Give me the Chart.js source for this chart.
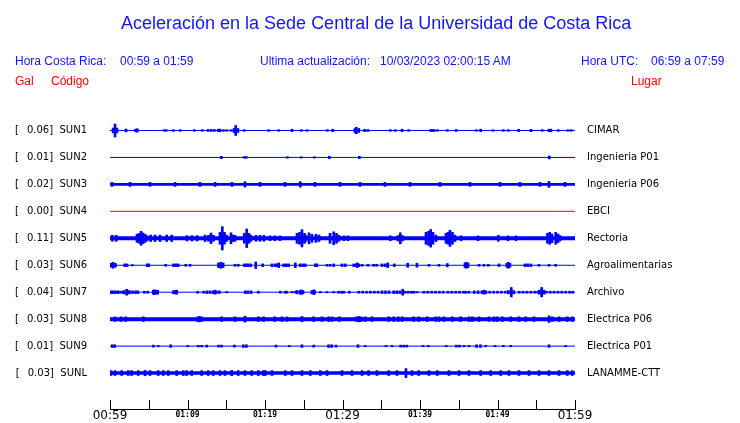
<!DOCTYPE html>
<html>
<head>
<meta charset="utf-8">
<script src="https://cdn.jsdelivr.net/npm/chart.js@4/dist/chart.umd.min.js"></script>
<style>
  body { margin: 0; background: #fff; }
  #wrap { position: relative; width: 740px; height: 423px; overflow: hidden; }
  #wrap canvas { position: absolute; left: 0; top: 0; }
  .txt { position: absolute; white-space: nowrap; font-family: "Liberation Sans", Arial, sans-serif; font-size: 12px; line-height: 12px; color: #1414ff; }
  .red { color: #ff0000; }
  #title { font-size: 18px; line-height: 18px; left: 121px; top: 14px; }
</style>
</head>
<body>
<div id="wrap">
  <canvas id="sismo" width="740" height="423"></canvas>
  <div class="txt" id="title">Aceleración en la Sede Central de la Universidad de Costa Rica</div>
  <div class="txt" style="left:15px;top:55px">Hora Costa Rica:</div>
  <div class="txt" style="left:120px;top:55px">00:59 a 01:59</div>
  <div class="txt" style="left:260px;top:55px">Ultima actualización:</div>
  <div class="txt" style="left:380px;top:55px">10/03/2023 02:00:15 AM</div>
  <div class="txt" style="left:581px;top:55px">Hora UTC:</div>
  <div class="txt" style="left:651px;top:55px">06:59 a 07:59</div>
  <div class="txt red" style="left:15px;top:75px">Gal</div>
  <div class="txt red" style="left:51px;top:75px">Código</div>
  <div class="txt red" style="left:631px;top:75px">Lugar</div>
</div>
<script>
/* ── Data ───────────────────────────────────────────────────── */

const stations = ["SUN1", "SUN2", "SUN3", "SUN4", "SUN5", "SUN6", "SUN7", "SUN8", "SUN9", "SUNL"];
const places   = ["CIMAR", "Ingenieria P01", "Ingenieria P06", "EBCI", "Rectoria",
                  "Agroalimentarias", "Archivo", "Electrica P06", "Electrica P01", "LANAMME-CTT"];
const peakGal  = [0.06, 0.01, 0.02, 0.00, 0.11, 0.03, 0.04, 0.03, 0.01, 0.03];

// minutes after 00:59, tick every 5 min
const tickLabels = ["00:59", "", "01:09", "", "01:19", "", "01:29", "", "01:39", "", "01:49", "", "01:59"];

// continuous background noise (half width, trace spacing = 10)
const noiseLevel = [0, 0, 0.55, 0, 0.74, 0, 0, 0.74, 0, 0.63];

// bursts per station: [minute, half amplitude]
const bursts = [
  // SUN1
  [[0.4,0.9],[0.65,2.4],[0.9,0.9],[2.06,0.55],[3.3,0.5],[3.52,0.63],[7.0,0.3],[7.26,0.3],[8.17,0.3],[9.07,0.3],
   [10.88,0.3],[11.91,0.3],[12.65,0.37],[13.07,0.37],[13.46,0.37],[13.97,0.48],[14.2,0.48],[14.62,0.3],[15.06,0.3],
   [15.61,0.3],[16.0,0.74],[16.22,1.85],[16.5,0.74],[17.33,0.3],[20.48,0.3],[21.77,0.3],[23.48,0.44],[24.68,0.3],
   [25.42,0.3],[28.04,0.3],[28.74,0.48],[31.6,0.74],[31.78,1.2],[32.1,0.74],[32.86,0.44],[33.29,0.37],[36.17,0.3],
   [36.81,0.3],[37.68,0.48],[38.54,0.3],[41.38,0.37],[41.59,0.37],[41.81,0.37],[42.23,0.3],[43.52,0.3],[44.68,0.37],
   [47.26,0.3],[47.83,0.48],[49.42,0.3],[50.75,0.3],[51.39,0.3],[52.74,0.44],[54.32,0.44],[55.78,0.3],[56.65,0.48],
   [56.9,0.48],[57.85,0.3],[59.1,0.3],[59.52,0.3]],
  // SUN2
  [[14.36,0.44],[17.33,0.3],[17.59,0.3],[22.88,0.26],[24.68,0.26],[26.36,0.26],[28.3,0.44],[32.17,0.44],[56.68,0.55]],
  // SUN3
  [[0.26,0.74],[2.58,0.74],[5.16,0.74],[8.39,0.74],[11.61,0.74],[13.55,0.74],[15.74,0.74],[17.42,1.0],[19.35,0.74],
   [22.58,0.74],[24.55,1.0],[26.45,0.74],[29.68,0.74],[32.26,0.74],[35.48,0.74],[38.71,0.74],[42.58,0.74],[46.45,0.74],
   [50.32,0.74],[52.9,0.74],[55.48,0.74],[56.65,1.1],[58.71,0.74]],
  // SUN4
  [],
  // SUN5
  [[0.3,1.1],[0.8,1.1],[3.48,1.5],[3.74,1.8],[4.0,2.6],[4.26,2.0],[4.52,1.5],[4.77,1.0],[5.25,1.2],[5.81,1.2],
   [6.45,1.2],[7.32,1.2],[7.96,1.2],[9.94,1.0],[10.58,1.0],[11.23,1.0],[12.26,1.2],[12.71,1.1],[13.03,1.96],[13.35,1.1],
   [14.19,2.2],[14.49,4.33],[14.77,2.2],[15.03,1.2],[15.61,2.04],[15.87,1.2],[16.13,1.1],[17.33,1.85],[17.64,3.44],
   [17.94,1.85],[18.19,1.1],[18.84,1.1],[19.35,1.1],[19.87,1.1],[20.65,0.9],[21.29,0.9],[21.94,0.9],[24.13,1.85],
   [24.45,2.2],[24.77,3.2],[25.1,1.85],[25.29,1.1],[25.68,2.04],[26.06,1.5],[26.58,1.5],[26.97,1.2],[28.39,1.85],
   [28.86,2.4],[29.23,1.85],[29.55,1.1],[30.19,0.9],[30.71,0.9],[36.17,0.93],[37.16,1.0],[37.46,2.04],[37.74,1.0],
   [40.77,2.2],[41.1,2.6],[41.38,3.26],[41.68,2.2],[42.06,1.2],[43.35,1.85],[43.61,2.2],[43.87,3.0],[44.19,2.2],
   [44.52,1.2],[45.29,0.93],[47.48,0.9],[50.1,1.1],[51.35,0.9],[52.39,0.9],[56.45,1.85],[56.74,2.2],[57.03,1.6],
   [57.51,2.2],[57.81,1.6],[58.06,1.0]],
  // SUN6
  [[0.1,0.74],[0.39,1.1],[0.7,0.74],[1.9,0.5],[2.2,0.5],[2.88,0.25],[4.8,0.5],[5.0,0.5],[7.19,0.37],[8.2,0.5],
   [8.5,0.5],[8.8,0.5],[9.77,0.37],[10.32,0.37],[14.0,0.86],[14.3,1.1],[14.6,0.86],[16.13,0.37],[16.55,0.37],
   [17.35,0.5],[17.6,0.5],[17.85,0.5],[18.15,0.5],[18.8,1.23],[19.7,0.5],[20.9,0.5],[21.3,0.5],[21.55,0.5],
   [21.77,0.86],[22.4,0.5],[22.75,0.5],[23.05,0.5],[23.91,0.86],[24.55,0.5],[24.9,0.5],[25.2,0.5],[26.5,0.5],
   [26.7,0.5],[28.0,0.37],[28.4,0.37],[28.86,0.5],[29.94,0.5],[30.36,0.5],[31.45,0.5],[31.8,0.5],[31.9,0.86],
   [32.1,0.5],[32.52,0.37],[33.29,0.37],[34.0,0.37],[34.4,0.37],[35.1,0.5],[35.5,0.5],[35.83,0.86],[36.68,0.5],
   [38.41,0.74],[39.61,0.74],[41.16,0.37],[42.45,0.37],[43.52,0.62],[45.8,0.86],[45.97,1.1],[46.2,0.86],[47.61,0.37],
   [48.26,0.37],[48.81,0.37],[50.19,0.5],[51.2,0.74],[51.39,1.1],[51.6,0.74],[53.55,0.5],[53.9,0.5],[54.3,0.5],
   [55.35,0.37],[56.65,0.37],[57.51,0.37]],
  // SUN7
  [[0.1,0.5],[0.4,0.5],[0.7,0.5],[1.0,0.5],[1.2,0.37],[1.5,0.37],[1.8,0.62],[2.15,1.1],[2.5,0.62],[2.9,0.5],
   [3.3,0.5],[3.6,0.5],[4.43,0.37],[4.86,0.37],[5.6,0.74],[5.7,0.86],[5.9,0.74],[6.15,0.74],[8.2,0.62],[8.5,0.62],
   [8.6,0.74],[11.32,0.37],[12.09,0.37],[12.5,0.5],[12.9,0.5],[13.3,0.5],[13.55,0.74],[13.7,0.5],[14.1,0.5],
   [15.06,0.25],[17.45,0.5],[17.8,0.5],[18.2,0.5],[19.14,0.37],[21.97,0.37],[22.6,0.37],[22.8,0.37],[23.5,0.25],
   [23.9,0.25],[24.1,0.62],[24.5,0.62],[24.65,0.86],[24.9,0.62],[26.05,0.62],[26.3,0.86],[26.4,0.62],[27.14,0.25],
   [28.0,0.25],[28.86,0.25],[29.5,0.37],[29.9,0.37],[30.15,0.37],[30.88,0.37],[32.1,0.37],[32.6,0.37],[33.1,0.37],
   [33.6,0.37],[34.1,0.37],[34.6,0.37],[35.1,0.5],[35.55,0.5],[36.0,0.5],[36.6,0.5],[37.0,0.5],[37.4,0.5],
   [37.77,1.1],[38.1,0.37],[38.5,0.37],[38.9,0.37],[39.2,0.37],[39.61,0.25],[40.5,0.37],[41.0,0.37],[41.5,0.37],
   [42.0,0.37],[42.5,0.37],[43.0,0.37],[43.6,0.37],[44.1,0.37],[44.6,0.37],[45.1,0.37],[45.6,0.37],[45.9,0.37],
   [46.3,0.37],[47.0,0.5],[47.5,0.5],[48.0,0.5],[48.26,0.74],[48.5,0.5],[49.0,0.37],[49.5,0.37],[50.0,0.37],
   [50.5,0.37],[51.0,0.37],[51.4,0.62],[51.78,1.74],[52.1,0.62],[52.8,0.37],[53.3,0.37],[53.8,0.37],[54.3,0.37],
   [54.8,0.37],[55.2,0.37],[55.4,0.74],[55.7,1.74],[56.0,0.74],[56.3,0.37],[56.8,0.37],[57.3,0.37],[57.8,0.37],
   [58.3,0.37],[58.8,0.37],[59.3,0.37],[59.7,0.37]],
  // SUN8
  [[0.65,0.86],[1.42,0.86],[2.03,0.86],[4.3,0.86],[11.3,0.86],[11.52,1.0],[11.8,0.86],[14.41,0.86],[16.13,0.86],
   [17.42,1.1],[19.14,0.86],[19.83,0.86],[21.25,0.86],[22.19,0.86],[22.84,0.86],[24.77,0.99],[26.28,0.86],
   [27.35,0.86],[28.22,0.86],[28.65,0.86],[29.59,0.86],[31.8,0.86],[32.09,0.99],[32.4,0.86],[32.94,0.86],
   [33.81,0.86],[35.96,0.86],[36.6,0.86],[37.2,0.86],[37.7,0.86],[39.19,0.86],[39.83,0.86],[40.94,0.86],
   [42.03,0.86],[42.45,0.86],[43.1,0.86],[44.17,0.86],[45.25,0.9],[46.32,0.86],[46.75,0.86],[47.61,0.86],
   [48.9,0.86],[49.55,0.86],[49.97,0.86],[50.62,0.9],[51.7,0.86],[52.77,0.86],[53.64,0.86],[54.71,0.86],
   [56.65,1.23],[57.07,0.86],[57.94,0.86],[59.01,0.86],[59.65,0.86]],
  // SUN9
  [[0.3,0.5],[0.6,0.5],[5.59,0.37],[6.23,0.25],[7.83,0.5],[10.03,0.25],[11.39,0.3],[11.83,0.3],[12.48,0.37],
   [14.0,0.37],[14.4,0.37],[16.04,0.37],[17.2,0.5],[17.6,0.5],[21.42,0.37],[23.14,0.25],[24.77,0.5],[26.28,0.37],
   [28.2,0.5],[28.6,0.5],[29.16,0.37],[32.0,0.5],[32.94,0.25],[35.61,0.25],[36.39,0.25],[37.5,0.37],[37.9,0.37],
   [38.3,0.37],[40.39,0.25],[41.07,0.25],[43.39,0.25],[44.7,0.37],[45.1,0.37],[45.68,0.25],[46.32,0.25],[47.3,0.5],
   [47.8,0.5],[48.48,0.25],[49.68,0.25],[50.75,0.25],[51.7,0.25],[56.65,0.5],[58.8,0.25]],
  // SUNL
  [[0.13,0.9],[0.65,0.9],[1.51,0.9],[2.36,0.9],[2.8,0.9],[3.65,0.9],[4.52,1.0],[5.16,0.9],[6.23,0.9],[6.88,0.9],
   [7.52,0.9],[8.61,0.9],[9.46,0.9],[9.89,0.9],[10.54,0.9],[11.83,0.9],[12.68,0.9],[13.33,0.9],[14.19,0.9],
   [14.84,0.9],[15.7,1.0],[16.55,0.9],[17.42,0.9],[18.28,0.9],[19.14,0.9],[19.78,0.9],[20.04,0.9],[20.9,0.9],
   [22.62,0.9],[23.48,0.9],[24.77,0.9],[25.85,0.9],[27.14,0.9],[28.0,0.9],[29.94,0.9],[31.23,0.9],[32.52,0.9],
   [33.38,0.9],[34.45,0.9],[35.96,0.9],[37.03,0.9],[38.19,1.67],[38.97,0.9],[39.83,0.9],[41.16,0.9],[42.23,0.9],
   [43.74,0.9],[45.03,0.9],[46.32,0.9],[47.83,0.9],[49.12,0.9],[50.41,0.9],[51.48,0.9],[52.77,0.9],[54.06,0.9],
   [55.35,0.9],[56.65,0.9],[57.94,0.9],[59.01,0.9],[59.65,0.9]],
];

/* ── Helpers ────────────────────────────────────────────────── */

const SPACING = 10;           // data units between traces
const DURATION = 60;          // minutes shown
const BLUE = "#0000ff";
const RED  = "#ff0000";

const traceColor = i => (peakGal[i] === 0 ? RED : BLUE);
const baseOf = i => i * SPACING;

function buildDatasets() {
  const sets = [];
  stations.forEach((code, i) => {
    const base = baseOf(i);
    const color = traceColor(i);

    // zero line of the trace
    sets.push({
      type: "line",
      data: [{ x: 0, y: base }, { x: DURATION, y: base }],
      borderColor: color, borderWidth: 1, pointRadius: 0, fill: false,
    });

    // background noise band
    if (noiseLevel[i] > 0) {
      sets.push({
        type: "line",
        data: [{ x: 0, y: base - noiseLevel[i] }, { x: DURATION, y: base - noiseLevel[i] }],
        borderWidth: 0, pointRadius: 0,
        backgroundColor: color,
        fill: { value: base + noiseLevel[i] },
      });
    }

    // bursts as floating bars around the zero line
    sets.push({
      type: "bar",
      data: bursts[i].map(([t, a]) => ({ x: t, y: [base - a, base + a] })),
      backgroundColor: color,
      borderWidth: 0,
      barThickness: 2,
      grouped: false,
    });
  });
  return sets;
}

const stationTicks = scale => {
  scale.ticks = stations.map((_, i) => ({ value: baseOf(i) }));
};

// fixed box size for the side axes, no extra label padding top/bottom
const sideFit = w => s => {
  s.width = w;
  s.paddingTop = 0;
  s.paddingBottom = 0;
};

const noGrid = { display: false, drawTicks: false, tickLength: 0 };

const upTicks = {
  id: "upTicks",
  afterDraw(chart) {
    const sx = chart.scales.x;
    const c = chart.ctx;
    c.save();
    c.strokeStyle = "#000";
    c.lineWidth = 1;
    c.beginPath();
    sx.ticks.forEach(t => {
      const px = Math.round(sx.getPixelForValue(t.value)) + 0.5;
      c.moveTo(px, sx.top);
      c.lineTo(px, sx.top - 9);
    });
    c.stroke();
    c.restore();
  },
};

/* ── Chart ──────────────────────────────────────────────────── */

const yRange = { min: -5, max: (stations.length - 1) * SPACING + 13.33 };

new Chart(document.getElementById("sismo"), {
  type: "line",
  data: { datasets: buildDatasets() },
  options: {
    responsive: false,
    animation: false,
    events: [],
    layout: { padding: { top: 117, left: 0, right: 0, bottom: 0 } },
    plugins: { legend: { display: false }, tooltip: { enabled: false } },
    scales: {
      x: {
        type: "linear",
        min: 0, max: DURATION,
        offset: false,
        afterFit: s => { s.height = 14; },
        grid: noGrid,
        border: { display: true, color: "#000", width: 1 },
        ticks: {
          stepSize: 5,
          autoSkip: false,
          maxRotation: 0,
          padding: 0,
          color: "#000",
          callback: v => tickLabels[Math.round(v / 5)] ?? "",
          font: ctx => (ctx.index % 6 === 0
            ? { family: "DejaVu Sans", size: 12, lineHeight: 1.2 }
            : { family: "DejaVu Sans Mono", size: 8, weight: "bold", lineHeight: 1.5 }),
        },
      },
      y: {
        type: "linear", position: "left", reverse: true,
        ...yRange,
        afterFit: sideFit(110),
        afterBuildTicks: stationTicks,
        grid: noGrid,
        border: { display: false },
        ticks: {
          padding: 23,
          color: "#000",
          font: { family: "DejaVu Sans", size: 10 },
          callback: v => {
            const i = Math.round(v / SPACING);
            return "[\u2002 " + peakGal[i].toFixed(2) + "]  " + stations[i];
          },
        },
      },
      yPlace: {
        type: "linear", position: "right", reverse: true,
        ...yRange,
        afterFit: sideFit(165),
        afterBuildTicks: stationTicks,
        grid: noGrid,
        border: { display: false },
        ticks: {
          padding: 12,
          color: "#000",
          font: { family: "DejaVu Sans", size: 10 },
          callback: v => places[Math.round(v / SPACING)],
        },
      },
    },
  },
  plugins: [upTicks],
});
</script>
</body>
</html>
